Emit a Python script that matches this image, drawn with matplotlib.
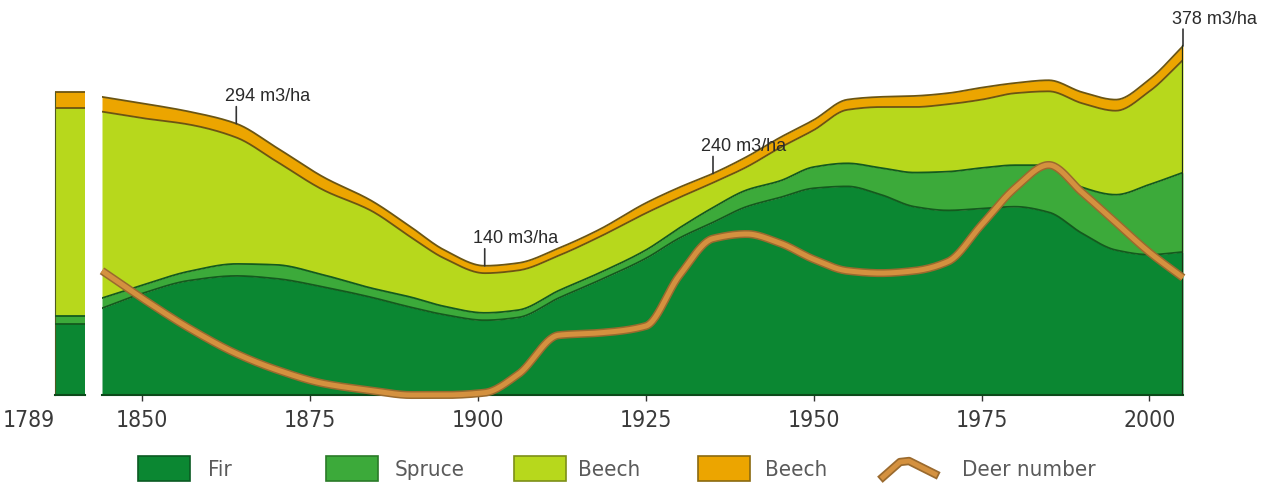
import numpy as np
import matplotlib
matplotlib.use("Agg")
import matplotlib.pyplot as plt
from matplotlib.patches import Rectangle
from matplotlib.lines import Line2D

NARROW = dict(family=["DejaVu Sans"], fontstretch="condensed")
REGULAR = ["Liberation Sans", "DejaVu Sans"]

# standing volume per species group (m3/ha); 1789 is drawn as a separate strip
year_1789 = 1789
fir_1789, spruce_1789, beech_1789, beech2_1789 = 77, 9, 225, 17

years = [1844, 1850, 1857, 1864, 1870, 1877, 1884, 1890, 1895, 1901, 1906, 1912,
         1918, 1925, 1930, 1935, 1940, 1945, 1950, 1955, 1960, 1965, 1970, 1975,
         1980, 1985, 1990, 1995, 2000, 2005]
fir = [94, 110, 124, 129, 126, 117, 106, 95, 87, 81, 84, 105,
       124, 148, 170, 187, 204, 214, 224, 226, 217, 204, 200, 202,
       204, 198, 175, 157, 152, 155]
spruce = [11, 9, 10, 13, 15, 13, 10, 11, 9, 8, 8, 8,
          8, 9, 11, 16, 18, 18, 23, 25, 29, 37, 42, 44,
          45, 51, 50, 60, 76, 86]
beech = [202, 181, 159, 137, 112, 92, 84, 65, 52, 43, 43, 38,
         39, 40, 33, 27, 25, 36, 40, 58, 66, 71, 73, 74,
         78, 80, 91, 91, 101, 122]
beech2 = [16, 16, 14, 15, 15, 14, 11, 11, 9, 8, 8, 8,
          8, 11, 11, 10, 11, 11, 11, 11, 11, 12, 12, 13,
          11, 12, 12, 12, 13, 15]

# deer population, relative index
deer = [54, 42, 29, 18, 11, 5, 2, 0, 0, 1, 9, 26,
        27, 30, 52, 68, 70, 66, 59, 54, 53, 54, 58, 74,
        90, 100, 88, 75, 62, 51]

# labelled totals
callouts = [(1864, 294), (1901, 140), (1935, 240), (2005, 378)]

tick_years = [1850, 1875, 1900, 1925, 1950, 1975, 2000]
legend_labels = ["Fir", "Spruce", "Beech", "Beech", "Deer number"]

c_fir = "#0b8732"
c_spruce = "#3caa3a"
c_beech = "#b7d81c"
c_beech2 = "#eca500"
c_deer = "#d4913f"
edge_green = "#145a1e"
edge_brown = "#6b5512"


def pchip(x, y, xs):
    # monotone cubic through the points, used only for drawing
    x = np.asarray(x, float)
    y = np.asarray(y, float)
    h = np.diff(x)
    d = np.diff(y) / h
    m = np.zeros_like(y)
    for k in range(1, len(x) - 1):
        if d[k - 1] * d[k] > 0:
            w1 = 2 * h[k] + h[k - 1]
            w2 = h[k] + 2 * h[k - 1]
            m[k] = (w1 + w2) / (w1 / d[k - 1] + w2 / d[k])
    m[0] = d[0]
    m[-1] = d[-1]
    i = np.clip(np.searchsorted(x, xs) - 1, 0, len(h) - 1)
    t = (xs - x[i]) / h[i]
    return ((2 * t**3 - 3 * t**2 + 1) * y[i] + (t**3 - 2 * t**2 + t) * h[i] * m[i]
            + (-2 * t**3 + 3 * t**2) * y[i + 1] + (t**3 - t**2) * h[i] * m[i + 1])


W, H = 1265, 483
fig = plt.figure(figsize=(W / 100, H / 100), dpi=100)
fig.patch.set_facecolor("white")

px_per_unit = 0.923
base_px, top_px = 395, 20
ymax = (base_px - top_px) / px_per_unit


def rect(x0, x1):
    return [x0 / W, (H - base_px) / H, (x1 - x0) / W, (base_px - top_px) / H]


ax = fig.add_axes(rect(102, 1183))
ax0 = fig.add_axes(rect(55, 85))

# stacked areas, main period
xs = np.linspace(years[0], years[-1], 800)
layers = [fir, spruce, beech, beech2]
colors = [c_fir, c_spruce, c_beech, c_beech2]
edges = [edge_green, edge_green, edge_brown, edge_brown]
cum = np.cumsum(np.array(layers, float), axis=0)
lower = np.zeros_like(xs)
for row, col, ec in zip(cum, colors, edges):
    upper = pchip(years, row, xs)
    ax.fill_between(xs, lower, upper, color=col, lw=0, zorder=2)
    ax.plot(xs, upper, color=ec, lw=1.3, zorder=3)
    lower = upper

# 1789 strip
vals_1789 = np.cumsum([fir_1789, spruce_1789, beech_1789, beech2_1789])
lo = 0
for v, col, ec in zip(vals_1789, colors, edges):
    ax0.fill_between([year_1789, year_1789 + 1], lo, v, color=col, lw=0, zorder=2)
    ax0.plot([year_1789, year_1789 + 1], [v, v], color=ec, lw=1.3, zorder=3)
    lo = v

# deer number on its own scale
ax2 = ax.twinx()
ax2.set_position(ax.get_position())
deer_s = pchip(years, deer, xs)
ax2.plot(xs, deer_s, color="#9a6a2e", lw=5.8, solid_capstyle="butt", clip_on=False)
ax2.plot(xs, deer_s, color=c_deer, lw=3.6, solid_capstyle="butt", clip_on=False)
ax2.set_ylim(0, (base_px - top_px) / 2.3)
ax2.axis("off")

# right edge line and volume callouts
ax.plot([years[-1], years[-1]], [0, cum[-1][-1]], color="#1e2a14", lw=1.6, zorder=4)
for yr, v in callouts:
    ax.annotate("", xy=(yr, v), xytext=(0, 17), textcoords="offset pixels",
                arrowprops=dict(arrowstyle="-", color="#333333", lw=1.2,
                                shrinkA=0, shrinkB=0), annotation_clip=False)
    ax.annotate(f"{v} m3/ha", xy=(yr, v), xytext=(31, 27), textcoords="offset pixels",
                ha="center", va="center", fontsize=13, color="#2a2a2a",
                family=REGULAR, annotation_clip=False)

for a in (ax, ax0):
    a.set_ylim(0, ymax)
    a.set_yticks([])
    for s in ("top", "right", "left"):
        a.spines[s].set_visible(False)
    a.spines["bottom"].set_color("#0c4a1a")
    a.spines["bottom"].set_linewidth(1.5)
    a.set_facecolor("none")
    a.tick_params(axis="x", length=4, width=1, color="#333333", pad=6)

ax.set_xlim(years[0], years[-1])
ax.set_xticks(tick_years)
ax.set_xticklabels([str(t) for t in tick_years], fontsize=16.5, color="#3a3a3a", **NARROW)

ax0.set_xlim(year_1789, year_1789 + 1)
ax0.spines["left"].set_visible(True)
ax0.spines["left"].set_color("#4d5a22")
ax0.spines["left"].set_bounds(0, vals_1789[-1])
ax0.set_xticks([year_1789])
ax0.set_xticklabels([str(year_1789)], fontsize=16.5, color="#3a3a3a", ha="right", **NARROW)
ax0.tick_params(axis="x", length=0, pad=10)

# legend along the bottom
def fx(x):
    return x / W


def fy(y):
    return (H - y) / H


swatches = [(138, c_fir, "#0a5a22"), (326, c_spruce, "#2a7a28"),
            (514, c_beech, "#7d8f18"), (698, c_beech2, "#8a6a10")]
text_x = [208, 395, 578, 765, 962]
for (x0, fc, ec), lab, tx in zip(swatches, legend_labels[:4], text_x[:4]):
    fig.patches.append(Rectangle((fx(x0), fy(481)), fx(52), 25 / H, transform=fig.transFigure,
                                 facecolor=fc, edgecolor=ec, lw=1.2))
    fig.text(fx(tx), fy(470), lab, ha="left", va="center", fontsize=16,
             color="#5a5a5a", **NARROW)

icon_x = [fx(883), fx(900), fx(909), fx(935)]
icon_y = [fy(477), fy(462), fy(461), fy(474)]
fig.lines.append(Line2D(icon_x, icon_y, transform=fig.transFigure, color="#9a6a2e",
                        lw=6, solid_joinstyle="round"))
fig.lines.append(Line2D(icon_x, icon_y, transform=fig.transFigure, color=c_deer,
                        lw=3.5, solid_joinstyle="round"))
fig.text(fx(text_x[4]), fy(470), legend_labels[4], ha="left", va="center", fontsize=16,
         color="#5a5a5a", **NARROW)

fig.savefig("out.png", dpi=100, facecolor="white")
